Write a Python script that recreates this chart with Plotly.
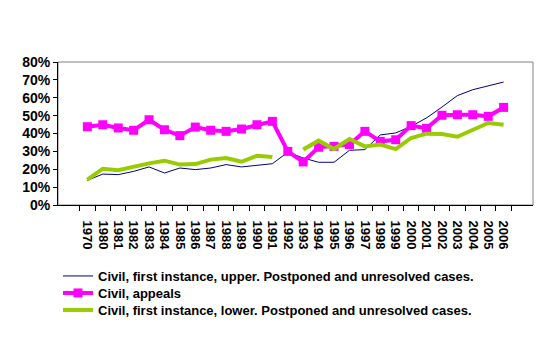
import plotly.graph_objects as go

years = ["1970"] + [str(y) for y in range(1980, 2007)]

upper = [13.8, 17.3, 17.0, 18.8, 21.3, 17.9, 20.7, 19.8, 20.7, 22.6, 21.3, 22.0, 23.1,
         29.5, 26.3, 23.9, 23.9, 30.6, 31.0, 39.2, 40.3, 44.0, 48.7, 54.8, 61.2, 64.5, 66.8, 68.8]
appeals = [43.8, 44.9, 43.1, 41.8, 47.7, 42.1, 38.8, 43.6, 41.8, 41.2, 42.5, 44.9, 46.8,
           30.0, 24.1, 32.3, 32.8, 33.8, 41.2, 35.6, 36.5, 44.4, 42.9, 50.2, 50.5, 50.5, 49.6, 54.6]
lower = [14.2, 20.3, 19.4, 21.6, 23.3, 24.8, 22.6, 22.9, 25.4, 26.3, 24.2, 27.6, 26.9,
         None, 31.0, 36.0, 31.3, 36.9, 32.8, 33.8, 31.3, 37.5, 39.9, 39.7, 38.2, 42.1, 45.9, 44.9]

names = ["Civil, first instance, upper. Postponed and unresolved cases.",
         "Civil, appeals",
         "Civil, first instance, lower. Postponed and unresolved cases."]

def frac(v):
    return [None if x is None else x / 100 for x in v]

fig = go.Figure()
fig.add_trace(go.Scatter(x=years, y=frac(upper), name=names[0], mode="lines",
                         line=dict(color="#000080", width=1), legend="legend"))
fig.add_trace(go.Scatter(x=years, y=frac(appeals), name=names[1], mode="lines+markers",
                         line=dict(color="#FF00FF", width=4),
                         marker=dict(symbol="square", size=9, color="#FF00FF"),
                         legend="legend2"))
fig.add_trace(go.Scatter(x=years, y=frac(lower), name=names[2], mode="lines",
                         line=dict(color="#99CC00", width=4), connectgaps=False,
                         legend="legend3"))

font_fam = "Liberation Sans, Arial, sans-serif"

fig.add_shape(type="rect", xref="paper", yref="paper", x0=0, x1=1, y0=0, y1=1,
              line=dict(color="#808080", width=1), layer="below")

plot_h = 343 - 62 - 138

def leg(ypix):
    return dict(x=0.0, y=(205 - ypix) / plot_h, xanchor="left", yanchor="middle",
                font=dict(size=13, family=font_fam, weight="bold"),
                itemwidth=30, bgcolor="rgba(0,0,0,0)")

fig.update_layout(
    width=548, height=343,
    margin=dict(l=58, r=15, t=62, b=138),
    paper_bgcolor="white", plot_bgcolor="white",
    font=dict(family=font_fam, color="black", size=12, weight="bold"),
    showlegend=True,
    legend=leg(276),
    legend2=leg(293),
    legend3=leg(310),
)
fig.update_xaxes(type="category", tickangle=90, showgrid=False, showline=True,
                 linecolor="black", linewidth=1, ticks="outside", ticklen=5,
                 tickcolor="black", tickson="boundaries", ticklabelstandoff=12,
                 tickmode="linear", tick0=0, dtick=1,
                 tickfont=dict(size=13, family=font_fam, weight="bold"))
fig.update_yaxes(range=[0, 0.8], dtick=0.1, tickformat=".0%", showgrid=False,
                 showline=True, linecolor="black", linewidth=1, ticks="outside",
                 ticklen=4, tickcolor="black", zeroline=False,
                 tickfont=dict(size=14, family=font_fam, weight="bold"))

fig.write_html("out.html")
